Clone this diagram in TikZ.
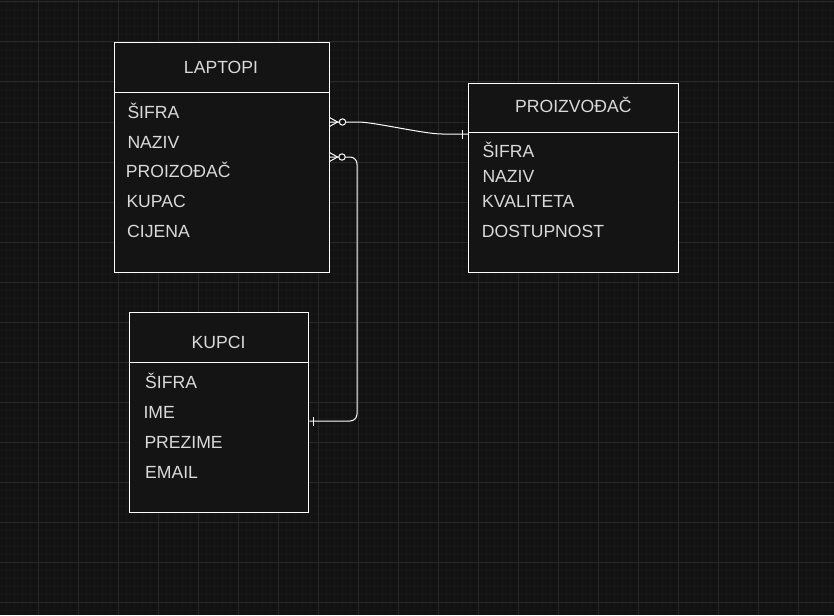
\documentclass[tikz,border=0pt]{standalone}
\usepackage{fontspec}
\setmainfont{Liberation Sans}
\definecolor{bg}{HTML}{121212}
\definecolor{boxbg}{HTML}{141414}
\definecolor{gridminor}{HTML}{171717}
\definecolor{gridmajor}{HTML}{282828}
\definecolor{txt}{HTML}{DADADA}
\begin{document}
\begin{tikzpicture}[x=1pt,y=-1pt,
  entity/.style={draw=white, line width=1pt, fill=boxbg, anchor=north west, inner sep=0pt},
  title/.style={font=\fontsize{17.6}{20}\selectfont, text=txt, inner sep=0pt, anchor=base},
  field/.style={font=\fontsize{17.6}{20}\selectfont, text=txt, inner sep=0pt, anchor=base west},
  divider/.style={draw=white, line width=1pt},
  conn/.style={draw=white, line width=1pt},
  minorline/.style={draw=gridminor, line width=0.8pt},
  majorline/.style={draw=gridmajor, line width=1pt}]
% background and bounding box
\fill[bg] (0,0) rectangle (834,615);
\useasboundingbox (0,0) rectangle (834,615);
% grid
\foreach \x in {6,14,...,838} \draw[minorline] (\x,0) -- (\x,615);
\foreach \y in {2,10,...,618} \draw[minorline] (0,\y) -- (834,\y);
\foreach \x in {-2,38,...,838} \draw[majorline] (\x,0) -- (\x,615);
\foreach \y in {2,42,...,618} \draw[majorline] (0,\y) -- (834,\y);

% LAPTOPI
\node[entity, minimum width=214.5pt, minimum height=229.5pt] (lap) at (114,42.5) {};
\draw[divider] (lap.west |- {(0,92.3)}) -- (lap.east |- {(0,92.3)});
\node[title] (lapt) at (221,73.3) {LAPTOPI};
\node[field] (lap1) at (127.3,118.3) {ŠIFRA};
\node[field] (lap2) at (127.3,148.3) {NAZIV};
\node[field] (lap3) at (125.7,177.7) {PROIZOĐAČ};
\node[field] (lap4) at (126.3,207.7) {KUPAC};
\node[field] (lap5) at (127,237.7) {CIJENA};

% PROIZVOĐAČ
\node[entity, minimum width=210pt, minimum height=189.5pt] (pro) at (468.3,82.7) {};
\draw[divider] (pro.west |- {(0,132.3)}) -- (pro.east |- {(0,132.3)});
\node[title] (prot) at (573.3,112.7) {PROIZVOĐAČ};
\node[field] (pro1) at (482.3,157.7) {ŠIFRA};
\node[field] (pro2) at (482.3,182.7) {NAZIV};
\node[field] (pro3) at (482,207.7) {KVALITETA};
\node[field] (pro4) at (481.7,237.7) {DOSTUPNOST};

% KUPCI
\node[entity, minimum width=179.7pt, minimum height=199.7pt] (kup) at (128.7,312.3) {};
\draw[divider] (kup.west |- {(0,362)}) -- (kup.east |- {(0,362)});
\node[title] (kupt) at (218.5,348) {KUPCI};
\node[field] (kup1) at (145,388) {ŠIFRA};
\node[field] (kup2) at (143.3,418) {IME};
\node[field] (kup3) at (144.3,448) {PREZIME};
\node[field] (kup4) at (145,478) {EMAIL};

% connector endpoints
\coordinate (a1) at (lap.east |- {(0,122)});
\coordinate (b1) at (pro.west |- {(0,134)});
\coordinate (a2) at (lap.east |- {(0,157)});
\coordinate (b2) at (kup.east |- {(0,421)});

% LAPTOPI -> PROIZVOĐAČ
\draw[conn] (a1) -- (358,122) .. controls (374,122) and (424,134) .. (442,134) -- (b1);
% crow's foot + zero
\draw[conn] ([yshift=-4.5]a1) -- ([xshift=8]a1) -- ([yshift=4.5]a1);
\draw[conn, fill=bg] ([xshift=13]a1) circle (3.2);
% one
\draw[conn] ([xshift=-6,yshift=-4.5]b1) -- ([xshift=-6,yshift=4.5]b1);

% LAPTOPI -> KUPCI
\draw[conn, rounded corners=7pt] (a2) -- (357,157) -- (357,421) -- (b2);
\draw[conn] ([yshift=-4.5]a2) -- ([xshift=8]a2) -- ([yshift=4.5]a2);
\draw[conn, fill=bg] ([xshift=12.5]a2) circle (3.2);
\draw[conn] ([xshift=4,yshift=-4.5]b2) -- ([xshift=4,yshift=4.5]b2);
\end{tikzpicture}
\end{document}
